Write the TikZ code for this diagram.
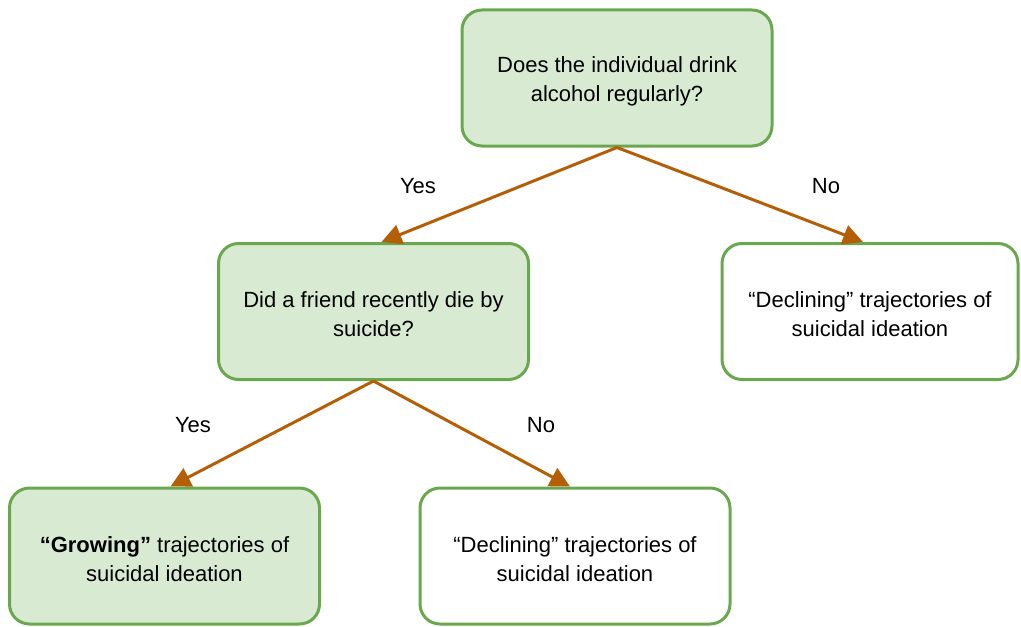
\documentclass[tikz,border=0pt]{standalone}
\usepackage{fontspec}
\setmainfont{Liberation Sans}
\usetikzlibrary{arrows.meta}
\definecolor{boxgreen}{HTML}{6AA84F}
\definecolor{boxfill}{HTML}{D9EAD3}
\definecolor{arrowbrown}{HTML}{B45F06}

\begin{document}
\begin{tikzpicture}[
    x=0.5pt, y=-0.5pt,
    every node/.style={font=\fontsize{11}{14.5}\selectfont, align=center},
    qbox/.style={draw=boxgreen, fill=boxfill, line width=1.5pt, rounded corners=10pt,
        minimum width=155pt, minimum height=68pt, text height=25.5pt},
    endbox/.style={qbox, fill=white},
    lbl/.style={inner sep=1pt},
    >={Triangle[length=10pt, width=10pt]}
]
\useasboundingbox (0,0) rectangle (1021,626);
\node[qbox] (alcohol) at (617,78) {Does the individual drink\\alcohol regularly?};
\node[qbox] (friend) at (373.5,311.5) {Did a friend recently die by\\suicide?};
\node[endbox, minimum width=148pt] (declineA) at (870,311.5) {``Declining'' trajectories of\\suicidal ideation};
\node[qbox] (grow) at (164.5,556) {\textbf{``Growing''} trajectories of\\suicidal ideation};
\node[endbox] (declineB) at (575,556) {``Declining'' trajectories of\\suicidal ideation};
\node[lbl] (yesA) at (418,186) {Yes};
\node[lbl] (noA) at (826,186) {No};
\node[lbl] (yesB) at (193,425) {Yes};
\node[lbl] (noB) at (541,425) {No};
\draw[->, draw=arrowbrown, fill=arrowbrown, line width=1.5pt] (alcohol.south) -- ([xshift=4pt]friend.north);
\draw[->, draw=arrowbrown, fill=arrowbrown, line width=1.5pt] (alcohol.south) -- ([xshift=-3.5pt]declineA.north);
\draw[->, draw=arrowbrown, fill=arrowbrown, line width=1.5pt] (friend.south) -- ([xshift=3pt]grow.north);
\draw[->, draw=arrowbrown, fill=arrowbrown, line width=1.5pt] (friend.south) -- ([xshift=-2.5pt]declineB.north);
\end{tikzpicture}
\end{document}
